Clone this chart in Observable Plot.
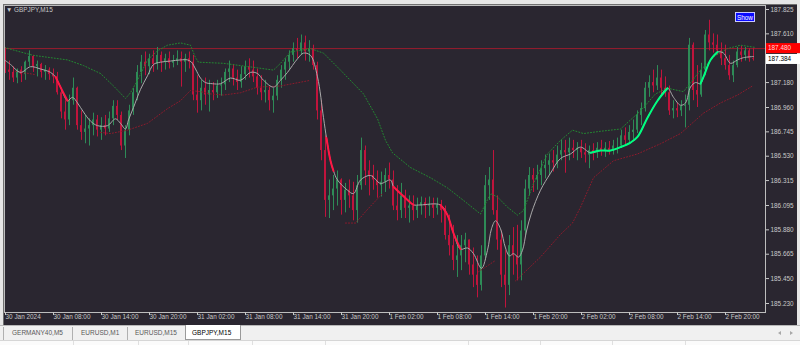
<!DOCTYPE html>
<html><head><meta charset="utf-8">
<script src="https://cdn.jsdelivr.net/npm/d3@7"></script>
<script src="https://cdn.jsdelivr.net/npm/@observablehq/plot@0.6"></script>
<style>
html,body{margin:0;padding:0;background:#e6e6e6;}
#wrap{position:relative;width:800px;height:345px;overflow:hidden;background:#e6e6e6;font-family:"Liberation Sans",Arial,sans-serif;}
#dark{position:absolute;left:3px;top:4px;width:794px;height:321px;background:#2a2630;border-left:1px solid #707070;border-top:1px solid #707070;box-sizing:border-box;}
#chart{position:absolute;left:0;top:0;}
#title{position:absolute;left:6px;top:6px;font-size:6.4px;color:#c8c8c8;white-space:nowrap;}
#show{position:absolute;left:735px;top:12px;width:20px;height:10px;background:#0a0aff;border:1px solid #c8c8ff;color:#fff;font-size:6.4px;line-height:10px;text-align:center;box-sizing:border-box;}
#tabs{position:absolute;left:0;top:325px;width:800px;height:15px;background:#f0f0f0;border-top:1px solid #b8b8b8;box-sizing:border-box;}
.tab{position:absolute;top:3px;font-size:6.5px;color:#5a5a5a;white-space:nowrap;}
.sep{position:absolute;top:1px;width:1px;height:13px;background:#b0b0b0;}
#active{position:absolute;left:185px;top:-1px;width:56px;height:15px;background:#fff;border:1px solid #9a9a9a;border-top:none;box-sizing:border-box;}
#strip{position:absolute;left:0;top:340px;width:800px;height:5px;background:#fbfbfb;border-top:1px solid #d6d6d6;box-sizing:border-box;}
.vl{position:absolute;top:0;width:1px;height:5px;background:#e0e0e0;}
.al{position:absolute;top:5px;width:0;height:0;border-top:2px solid transparent;border-bottom:2px solid transparent;border-right:3px solid #a8a8a8;}
.ar{position:absolute;top:5px;width:0;height:0;border-top:2px solid transparent;border-bottom:2px solid transparent;border-left:3px solid #a8a8a8;}
</style>
</head><body>
<div id="wrap">
  <div id="dark"></div>
  <div id="chart"></div>
  <div id="title">▼ GBPJPY,M15</div>
  <div id="show">Show</div>
  <div id="tabs">
    <div class="sep" style="left:3px"></div>
    <div class="tab" style="left:12px">GERMANY40,M5</div>
    <div class="sep" style="left:72px"></div>
    <div class="tab" style="left:81px">EURUSD,M1</div>
    <div class="sep" style="left:127px"></div>
    <div class="tab" style="left:135px">EURUSD,M15</div>
    <div id="active"></div>
    <div class="tab" style="left:192px;color:#000">GBPJPY,M15</div>
    <div class="al" style="left:778px"></div>
    <div class="ar" style="left:790px"></div>
  </div>
  <div id="strip">
    <div class="vl" style="left:73px"></div><div class="vl" style="left:138px"></div>
    <div class="vl" style="left:188px"></div><div class="vl" style="left:252px"></div>
    <div class="vl" style="left:325px"></div><div class="vl" style="left:468px"></div>
    <div class="vl" style="left:540px"></div><div class="vl" style="left:612px"></div>
    <div class="vl" style="left:685px"></div>
  </div>
</div>
<script>
// ---- data (30-minute candles, GBPJPY) ----
const firstOpen = 187.46;
const highs = [
187.49,187.37,187.32,187.30,187.32,187.37,187.46,187.42,187.37,187.35,
187.33,187.31,187.30,187.27,187.13,187.02,187.07,187.22,187.14,186.93,
186.89,186.86,186.91,186.89,186.87,186.89,186.92,187.02,187.02,186.92,
186.80,186.98,187.13,187.33,187.42,187.45,187.43,187.46,187.49,187.45,
187.43,187.45,187.42,187.46,187.45,187.43,187.45,187.42,187.24,187.20,
187.22,187.20,187.18,187.20,187.22,187.30,187.37,187.34,187.29,187.32,
187.37,187.39,187.37,187.30,187.24,187.20,187.15,187.13,187.24,187.33,
187.39,187.46,187.53,187.57,187.60,187.59,187.55,187.51,187.36,187.02,
186.71,186.32,186.36,186.40,186.33,186.29,186.32,186.30,186.36,186.69,
186.62,186.49,186.45,186.40,186.39,186.42,186.47,186.40,186.27,186.29,
186.23,186.18,186.18,186.16,186.17,186.16,186.17,186.16,186.16,186.14,
186.09,186.01,185.92,185.83,185.83,185.85,185.79,185.72,185.65,185.74,
186.36,186.43,186.58,186.18,185.87,185.70,185.83,185.90,185.92,185.96,
186.32,186.43,186.42,186.45,186.49,186.54,186.55,186.58,186.62,186.67,
186.67,186.69,186.67,186.65,186.67,186.64,186.62,186.64,186.65,186.67,
186.65,186.66,186.67,186.69,186.76,186.78,186.80,186.85,186.93,187.00,
187.18,187.24,187.29,187.33,187.29,187.23,187.15,187.02,187.00,187.02,
187.07,187.57,187.53,187.33,187.35,187.64,187.73,187.61,187.60,187.53,
187.51,187.42,187.37,187.49,187.50,187.49,187.48,187.48];
const lows = [
187.26,187.20,187.18,187.17,187.18,187.20,187.32,187.27,187.23,187.22,
187.20,187.20,187.17,187.07,186.86,186.76,186.80,186.98,186.76,186.67,
186.64,186.62,186.71,186.70,186.67,186.71,186.74,186.80,186.85,186.58,
186.51,186.71,186.89,187.02,187.17,187.24,187.25,187.27,187.29,187.27,
187.29,187.30,187.31,187.33,187.14,187.27,187.30,187.02,186.91,186.93,
186.98,186.92,187.02,187.04,187.06,187.11,187.18,187.15,187.11,187.13,
187.20,187.22,187.18,187.07,187.02,187.00,186.93,186.91,187.02,187.13,
187.20,187.29,187.36,187.39,187.42,187.37,187.36,187.29,186.85,186.49,
185.99,185.98,186.05,186.09,186.01,186.03,186.07,185.96,185.94,186.23,
186.27,186.18,186.23,186.16,186.17,186.21,186.24,186.05,185.96,185.98,
185.98,185.94,185.96,185.98,186.01,185.98,186.00,185.98,186.01,185.94,
185.79,185.65,185.52,185.46,185.52,185.59,185.48,185.37,185.28,185.34,
185.61,186.14,186.01,185.70,185.37,185.19,185.30,185.48,185.43,185.43,
185.83,186.18,186.21,186.23,186.27,186.33,186.36,186.39,186.42,186.49,
186.38,186.49,186.51,186.49,186.51,186.47,186.42,186.49,186.51,186.53,
186.52,186.54,186.54,186.55,186.60,186.62,186.64,186.67,186.73,186.80,
186.92,187.05,187.09,187.11,187.07,187.05,186.89,186.86,186.87,186.88,
186.78,186.93,187.02,186.96,187.05,187.24,187.46,187.44,187.42,187.33,
187.29,187.20,187.18,187.31,187.36,187.37,187.36,187.37];
const closes = [
187.29,187.27,187.22,187.29,187.25,187.36,187.41,187.32,187.34,187.27,
187.29,187.25,187.23,187.09,186.92,186.85,187.02,187.13,186.80,186.74,
186.77,186.80,186.85,186.76,186.80,186.77,186.86,186.97,186.89,186.62,
186.76,186.93,187.09,187.27,187.36,187.32,187.39,187.34,187.42,187.36,
187.39,187.35,187.37,187.39,187.36,187.39,187.36,187.07,187.02,187.13,
187.07,187.11,187.09,187.15,187.16,187.27,187.30,187.22,187.18,187.25,
187.32,187.29,187.23,187.13,187.09,187.11,187.02,187.06,187.20,187.29,
187.36,187.42,187.48,187.46,187.53,187.45,187.48,187.33,186.93,186.58,
186.14,186.18,186.24,186.32,186.14,186.23,186.18,186.05,186.27,186.58,
186.40,186.36,186.32,186.27,186.30,186.36,186.32,186.09,186.05,186.18,
186.07,186.09,186.05,186.09,186.12,186.09,186.10,186.07,186.10,186.05,
185.83,185.74,185.61,185.65,185.74,185.79,185.57,185.48,185.39,185.65,
186.27,186.32,186.05,185.79,185.48,185.39,185.74,185.65,185.57,185.87,
186.24,186.36,186.32,186.36,186.42,186.45,186.49,186.47,186.54,186.58,
186.56,186.60,186.58,186.60,186.56,186.54,186.58,186.56,186.60,186.58,
186.60,186.58,186.62,186.62,186.71,186.67,186.74,186.76,186.89,186.95,
187.13,187.18,187.15,187.22,187.13,187.09,186.93,186.95,186.93,186.97,
186.98,187.51,187.11,187.07,187.29,187.60,187.53,187.51,187.46,187.39,
187.33,187.24,187.33,187.45,187.42,187.46,187.39,187.384];

// moving average (bar index in M15 bars, price)
const maBar = [0,3,8,13,18,23,25.5,28,31.5,34,36.5,39.5,43,46.5,51.5,55.5,58,60.5,62,64.5,68,71.5,74.5,78,83,88,91.5,93.5,95.5,98,100.5,104,108,113,118,123,126.5,129.5,134.5,138,141.5,146.5,149.5,153,156.5,159.5,161,163,164.5,166.5,171.5,174.5,178,183,188,193,194.5,198,203,204.5,208,218,221.5,224.5,228,231.5,234.5,238.5,241.5,243.5,245.5,248,250.5,252.5,254.5,257,259,261,263.5,268,273,278,283,288,293,298,303,308,313,316.5,321.5,326.5,331.5,334.5,338,340.5,343,345.5,348,349.5,353,356.5,359.5,363,366.5,369.5,374.5];
const maPrice = [187.38,187.34,187.27,187.32,187.30,187.27,187.23,187.14,187.02,187.05,187.00,186.92,186.84,186.80,186.80,186.86,186.82,186.77,186.85,186.96,187.12,187.24,187.34,187.36,187.37,187.38,187.38,187.36,187.30,187.22,187.18,187.17,187.17,187.22,187.20,187.27,187.26,187.20,187.14,187.20,187.27,187.39,187.44,187.42,187.23,186.87,186.69,186.49,186.40,186.32,186.23,186.20,186.32,186.36,186.29,186.32,186.26,186.20,186.12,186.10,186.10,186.10,186.01,185.85,185.71,185.72,185.67,185.54,185.70,185.89,185.96,185.89,185.72,185.65,185.67,185.64,185.70,185.87,186.03,186.23,186.38,186.51,186.55,186.61,186.56,186.58,186.58,186.61,186.65,186.70,186.87,187.02,187.13,187.05,186.98,187.00,187.14,187.18,187.17,187.23,187.38,187.45,187.44,187.35,187.38,187.40,187.41];
// stretches where the average is falling / rising fast (bar ranges)
const maFalling = [[25.5,31.5],[161,164.5],[194.5,204.5],[218,228]];
const maRising = [[293,331.5],[348,356.5]];

// slow average (green dotted)
const slowBar = [0,8,14.5,23,31.5,39.5,48,54.5,60.5,63,66.5,71.5,76.5,81.5,88,93,95.5,97,109.5,126.5,134.5,138,143,153,159.5,168,179.5,186.5,190.5,194,203,213,221.5,229.5,238,243,246.5,251.5,256.5,259.5,264.5,271.5,278,284,289.5,298,308,318,325.5,331.5,339.5,348,355.5,361.5,368,375.5];
const slowPrice = [187.49,187.45,187.42,187.40,187.38,187.33,187.26,187.15,187.04,187.09,187.20,187.38,187.46,187.51,187.53,187.51,187.40,187.36,187.35,187.31,187.29,187.35,187.45,187.48,187.44,187.29,187.08,186.86,186.67,186.56,186.43,186.34,186.25,186.14,186.02,186.20,186.17,186.08,186.01,186.05,186.29,186.55,186.67,186.76,186.73,186.75,186.77,186.93,187.08,187.13,187.10,187.29,187.42,187.48,187.51,187.49];

// trailing level (dark red dotted), NaN = break
const trailBar = [5.5,15.5,16,48,53,61.5,71.5,81.5,88,93,98,103,109.5,118,126.5,138,153,154,170.5,175.5,182,189,190,237,245.5,246,255.5,268,278,284,288,294.5,304.5,316.5,328,338,349.5,358,366.5,374];
const trailPrice = [187.28,187.25,NaN,186.74,186.73,186.76,186.82,186.95,187.02,187.11,187.10,187.08,187.07,187.09,187.14,187.15,187.20,NaN,185.94,185.94,186.07,186.20,NaN,185.51,185.61,NaN,185.43,185.64,185.84,185.94,186.08,186.34,186.49,186.55,186.64,186.73,186.91,187.00,187.07,187.15];

const levelPrice = 187.48;
const lastPrice = 187.384;
const priceTicks = [187.825,187.610,187.395,187.180,186.960,186.745,186.530,186.315,186.095,185.880,185.665,185.450,185.230];
const timeTickBars = [0,24,48,72,96,120,144,168,192,216,240,264,288,312,336,360];
const timeLabels = ["30 Jan 2024","30 Jan 08:00","30 Jan 14:00","30 Jan 20:00","31 Jan 02:00","31 Jan 08:00","31 Jan 14:00","31 Jan 20:00","1 Feb 02:00","1 Feb 08:00","1 Feb 14:00","1 Feb 20:00","2 Feb 02:00","2 Feb 08:00","2 Feb 14:00","2 Feb 20:00"];

// ---- build tables ----
const candles = closes.map((c, i) => ({t: i, o: i ? closes[i - 1] : firstOpen, h: highs[i], l: lows[i], c}));
const ma = maBar.map((b, i) => ({b, p: maPrice[i]}));
function segs(ranges) {
  const out = [];
  ranges.forEach(([s, e], k) => ma.forEach(d => { if (d.b >= s && d.b <= e) out.push({...d, k}); }));
  return out;
}
const slow = slowBar.map((b, i) => ({b, p: slowPrice[i]}));
const trail = trailBar.map((b, i) => ({b, p: trailPrice[i]}));

const BULL = "#2e8b57", BEAR = "#c0143c";
const candleColor = d => d.c >= d.o ? BULL : BEAR;

const chart = Plot.plot({
  width: 800, height: 325,
  marginLeft: 4, marginRight: 35, marginTop: 5, marginBottom: 13,
  style: {background: "transparent", color: "#c8c8c8", fontFamily: "Liberation Sans, Arial, sans-serif", fontSize: "6.4px", overflow: "visible"},
  x: {domain: [0, 380.5], axis: null, label: null},
  y: {domain: [185.23, 187.825], range: [303, 9], axis: null, label: null},
  color: {type: "identity"},
  marks: [
    Plot.ruleY([levelPrice], {stroke: "#9a1c2e", strokeWidth: 1}),
    // wick (1px) and body (2px)
    Plot.rect(candles, {x1: d => 2 * d.t + 0.5, x2: d => 2 * d.t + 1, y1: "l", y2: "h", fill: candleColor}),
    Plot.rect(candles, {x1: d => 2 * d.t, x2: d => 2 * d.t + 1, y1: d => Math.min(d.o, d.c), y2: d => Math.max(d.o, d.c), fill: candleColor}),
    Plot.line(slow, {x: "b", y: "p", stroke: "#238a30", strokeWidth: 1, strokeDasharray: "1,2"}),
    Plot.line(trail, {x: "b", y: "p", stroke: "#8e1a2c", strokeWidth: 1, strokeDasharray: "1,2"}),
    Plot.line(ma, {x: "b", y: "p", stroke: "#a9a9a9", strokeWidth: 1, curve: "catmull-rom"}),
    Plot.line(segs(maFalling), {x: "b", y: "p", z: "k", stroke: "#ff1744", strokeWidth: 2, curve: "catmull-rom"}),
    Plot.line(segs(maRising), {x: "b", y: "p", z: "k", stroke: "#00ff80", strokeWidth: 2, curve: "catmull-rom"}),
    Plot.frame({stroke: "#bdbdbd"}),
    Plot.axisY(priceTicks, {anchor: "right", tickSize: 3, tickPadding: 2, label: null,
      tickFormat: d => Math.abs(d - lastPrice) < 0.05 ? "" : d.toFixed(3)}),
    Plot.axisX(timeTickBars, {anchor: "bottom", tickSize: 3, tickPadding: -1, textAnchor: "start", dx: 1, label: null, tickFormat: (d, i) => timeLabels[i]})
  ]
});
document.getElementById("chart").appendChild(chart);

// price labels on the right axis
const svg = d3.select(chart);
const ys = chart.scale("y");
function priceBox(v, bg, fg) {
  const y = ys.apply(v);
  const g = svg.append("g").attr("text-anchor", "start");
  g.append("rect").attr("x", 766).attr("y", y - 5).attr("width", 34).attr("height", 10).attr("fill", bg);
  g.append("text").attr("x", 768).attr("y", y).attr("dy", "0.35em").attr("fill", fg).attr("text-anchor", "start")
    .attr("font-size", "6.4px").attr("font-family", "Liberation Sans, Arial, sans-serif").text(v.toFixed(3));
}
priceBox(levelPrice, "#ff0000", "#ffd6d6");
priceBox(lastPrice, "#ffffff", "#000000");
</script>
</body></html>
